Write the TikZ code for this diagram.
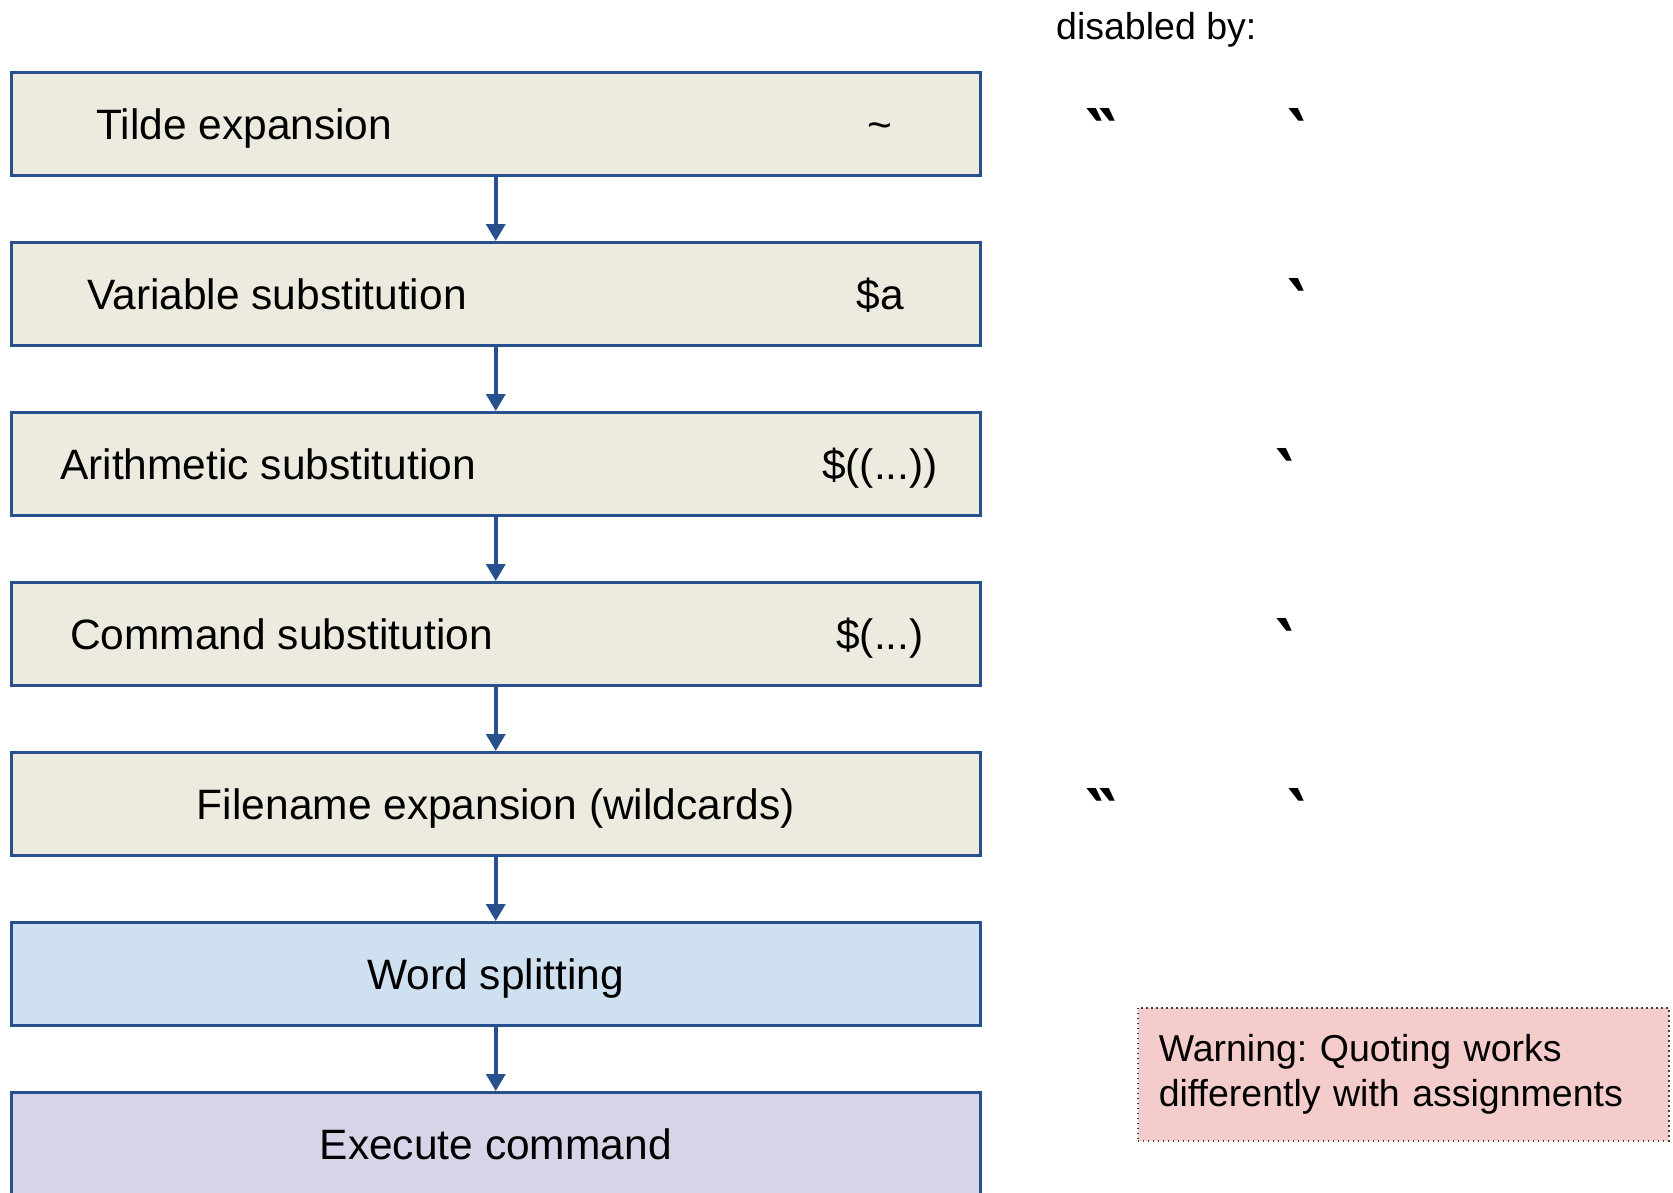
\documentclass[tikz,border=0pt]{standalone}
\usepackage{fontspec}
\setmainfont{Liberation Sans}
\newfontfamily\markfont{DejaVu Sans}
\frenchspacing
\usetikzlibrary{calc}
\usetikzlibrary{arrows.meta}

\definecolor{stagebg}{RGB}{237,235,224}
\definecolor{splitbg}{RGB}{207,224,241}
\definecolor{execbg}{RGB}{217,211,232}
\definecolor{edgeblue}{RGB}{40,80,140}
\definecolor{warnbg}{RGB}{244,204,204}

\tikzset{
 stage/.style={draw=edgeblue, line width=2.5pt, minimum width=969pt, minimum height=103pt, inner sep=0pt, anchor=north west},
 lbl/.style={font=\fontsize{42.5}{50}\selectfont, inner sep=0pt},
 quotemark/.style={font=\markfont\bfseries\fontsize{70}{74}\selectfont, inner sep=0pt, anchor=base},
 flow/.style={edgeblue, line width=3.5pt, ->, >={Triangle[width=19pt,length=17pt]}},
 warnbox/.style={draw=black!75, line width=1.5pt, dash pattern=on 1.5pt off 3.5pt, fill=warnbg, anchor=north west,
   minimum width=531pt, minimum height=133pt, text width=489pt, inner xsep=21pt, align=left,
   font=\fontsize{37.5}{45}\selectfont},
}

\begin{document}
\begin{tikzpicture}[x=1pt, y=-1pt]
\useasboundingbox (0,0) rectangle (1673,1192);

\foreach \i/\col in {1/stagebg, 2/stagebg, 3/stagebg, 4/stagebg, 5/stagebg, 6/splitbg, 7/execbg} {
 \node[stage, fill=\col] (b\i) at (10, {71+170*(\i-1)}) {};
}
\foreach \a/\b in {b1/b2, b2/b3, b3/b4, b4/b5, b5/b6, b6/b7} {
 \draw[flow] (\a.south) -- (\b.north);
}

\node[lbl, anchor=base west] (t1) at ($(b1.west)+(86,16)$) {Tilde expansion};
\node[lbl, anchor=base west] (t2) at ($(b2.west)+(77,16)$) {Variable substitution};
\node[lbl, anchor=base west] (t3) at ($(b3.west)+(50,16)$) {Arithmetic substitution};
\node[lbl, anchor=base west] (t4) at ($(b4.west)+(60,16)$) {Command substitution};
\node[lbl, anchor=base] (t5) at ($(b5.center)+(0,16)$) {Filename expansion (wildcards)};
\node[lbl, anchor=base] (t6) at ($(b6.center)+(0,16)$) {Word splitting};
\node[lbl, anchor=base] (t7) at ($(b7.center)+(0,16)$) {Execute command};

\node[lbl, anchor=base] (s1) at ($(b1.west)+(870,16)$) {\textasciitilde};
\node[lbl, anchor=base] (s2) at ($(b2.west)+(870,16)$) {\$a};
\node[lbl, anchor=base] (s3) at ($(b3.west)+(870,16)$) {\$((...))};
\node[lbl, anchor=base] (s4) at ($(b4.west)+(870,16)$) {\$(...)};

\node[font=\fontsize{37.5}{45}\selectfont, anchor=base west, inner sep=0pt] (hdr) at (1056,39) {disabled by:};

\node[quotemark] (q1d) at ($(b1.west)+(1091,36)$) {‶};
\node[quotemark] (q1s) at ($(b1.west)+(1287,36)$) {‵};
\node[quotemark] (q2s) at ($(b2.west)+(1287,36)$) {‵};
\node[quotemark] (q3s) at ($(b3.west)+(1275,36)$) {‵};
\node[quotemark] (q4s) at ($(b4.west)+(1275,36)$) {‵};
\node[quotemark] (q5d) at ($(b5.west)+(1091,36)$) {‶};
\node[quotemark] (q5s) at ($(b5.west)+(1287,36)$) {‵};

\node[warnbox] (warn) at (1137,1007) {Warning: Quoting works\\differently with assignments};
\end{tikzpicture}
\end{document}
